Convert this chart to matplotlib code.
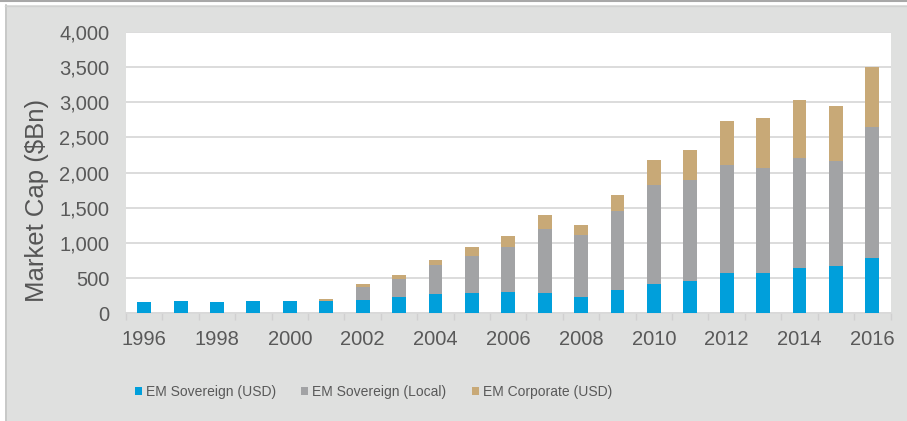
import matplotlib
matplotlib.use("Agg")
import matplotlib.pyplot as plt
from matplotlib.patches import Rectangle
from matplotlib.lines import Line2D
import numpy as np

years = list(range(1996, 2017))
em_sov_usd = [156, 171, 156, 171, 171, 171, 194, 236, 270, 284, 303, 284, 236, 336, 412, 459, 573, 573, 649, 673, 782]
em_sov_local = [0, 0, 0, 0, 0, 0, 185, 252, 413, 527, 636, 911, 878, 1115, 1418, 1437, 1532, 1498, 1565, 1493, 1864]
em_corp_usd = [0, 0, 0, 0, 0, 37, 33, 52, 79, 128, 161, 203, 142, 236, 351, 431, 635, 703, 816, 783, 854]
series_names = ["EM Sovereign (USD)", "EM Sovereign (Local)", "EM Corporate (USD)"]
y_ticks = [0, 500, 1000, 1500, 2000, 2500, 3000, 3500, 4000]
y_ticklabels = ["0", "500", "1,000", "1,500", "2,000", "2,500", "3,000", "3,500", "4,000"]

C_BLUE = "#009FDB"
C_GREY = "#A2A3A5"
C_TAN = "#C8A977"
BG = "#DFE0DF"
TXT = "#595959"

W, H = 907, 421
fig = plt.figure(figsize=(W / 100, H / 100), dpi=100)
fig.patch.set_facecolor("white")

# panel background with border
fig.patches.append(Rectangle((5 / W, 0), 1 - 5 / W, 1 - 5 / H, transform=fig.transFigure,
                             facecolor=BG, edgecolor="none", zorder=-10))
fig.lines.append(Line2D([0, 1], [1 - 1.2 / H, 1 - 1.2 / H], transform=fig.transFigure,
                        color="#A8A8A8", lw=1.5, zorder=-5))
fig.lines.append(Line2D([5.5 / W, 5.5 / W], [0, 1 - 5 / H], transform=fig.transFigure,
                        color="#C4C5C4", lw=1.2, zorder=-5))
fig.lines.append(Line2D([5 / W, 1], [1 - 5.5 / H, 1 - 5.5 / H], transform=fig.transFigure,
                        color="#D0D1D0", lw=1.0, zorder=-5))

left, right = 126 / W, 890.5 / W
bottom, top = 1 - 313.3 / H, 1 - 32 / H
ax = fig.add_axes([left, bottom, right - left, top - bottom])
ax.set_facecolor("white")

x = np.arange(len(years))
usd = np.array(em_sov_usd)
loc = np.array(em_sov_local)
corp = np.array(em_corp_usd)
bw = 0.38
ax.bar(x, usd, bw, color=C_BLUE, label=series_names[0], zorder=3)
ax.bar(x, loc, bw, bottom=usd, color=C_GREY, label=series_names[1], zorder=3)
ax.bar(x, corp, bw, bottom=usd + loc, color=C_TAN, label=series_names[2], zorder=3)

ax.set_xlim(-0.5, len(years) - 0.5)
ax.set_ylim(0, 4000)
ax.set_yticks(y_ticks)
ax.set_yticklabels(y_ticklabels)
ax.yaxis.grid(True, color="#D9D9D9", lw=1.3, zorder=0)
ax.set_axisbelow(True)

ax.set_xticks(x[::2])
ax.set_xticklabels([str(y) for y in years[::2]])
ax.set_xticks(np.arange(len(years) + 1) - 0.5, minor=True)

tick_font = dict(family=["Liberation Sans", "DejaVu Sans"], size=14.5)
for lab in ax.get_xticklabels() + ax.get_yticklabels():
    lab.set_fontfamily(tick_font["family"])
    lab.set_fontsize(tick_font["size"])
    lab.set_color(TXT)

ax.tick_params(axis="y", length=0, pad=12)
ax.tick_params(axis="x", which="major", length=0, pad=12)
ax.tick_params(axis="x", which="minor", length=5, color="#D0D0D0", width=1)

for s in ["top", "right", "left"]:
    ax.spines[s].set_visible(False)
ax.spines["bottom"].set_color("#D9D9D9")
ax.spines["bottom"].set_linewidth(1.2)

fig.text(37 / W, 1 - 200 / H, "Market Cap ($Bn)", rotation=90, ha="center", va="center",
         fontsize=18.5, color="#555555", family=["Liberation Sans", "DejaVu Sans"])

handles, labels = ax.get_legend_handles_labels()
leg = fig.legend(handles, labels, loc="center", bbox_to_anchor=(373.5 / W, 1 - 392 / H),
                 ncol=3, frameon=False, handlelength=0.5, handleheight=0.5,
                 handletextpad=0.3, columnspacing=1.8,
                 prop=dict(family=["Liberation Sans", "DejaVu Sans"], size=10.0))
for t in leg.get_texts():
    t.set_color(TXT)

fig.savefig("out.png", dpi=100, facecolor=fig.get_facecolor())
